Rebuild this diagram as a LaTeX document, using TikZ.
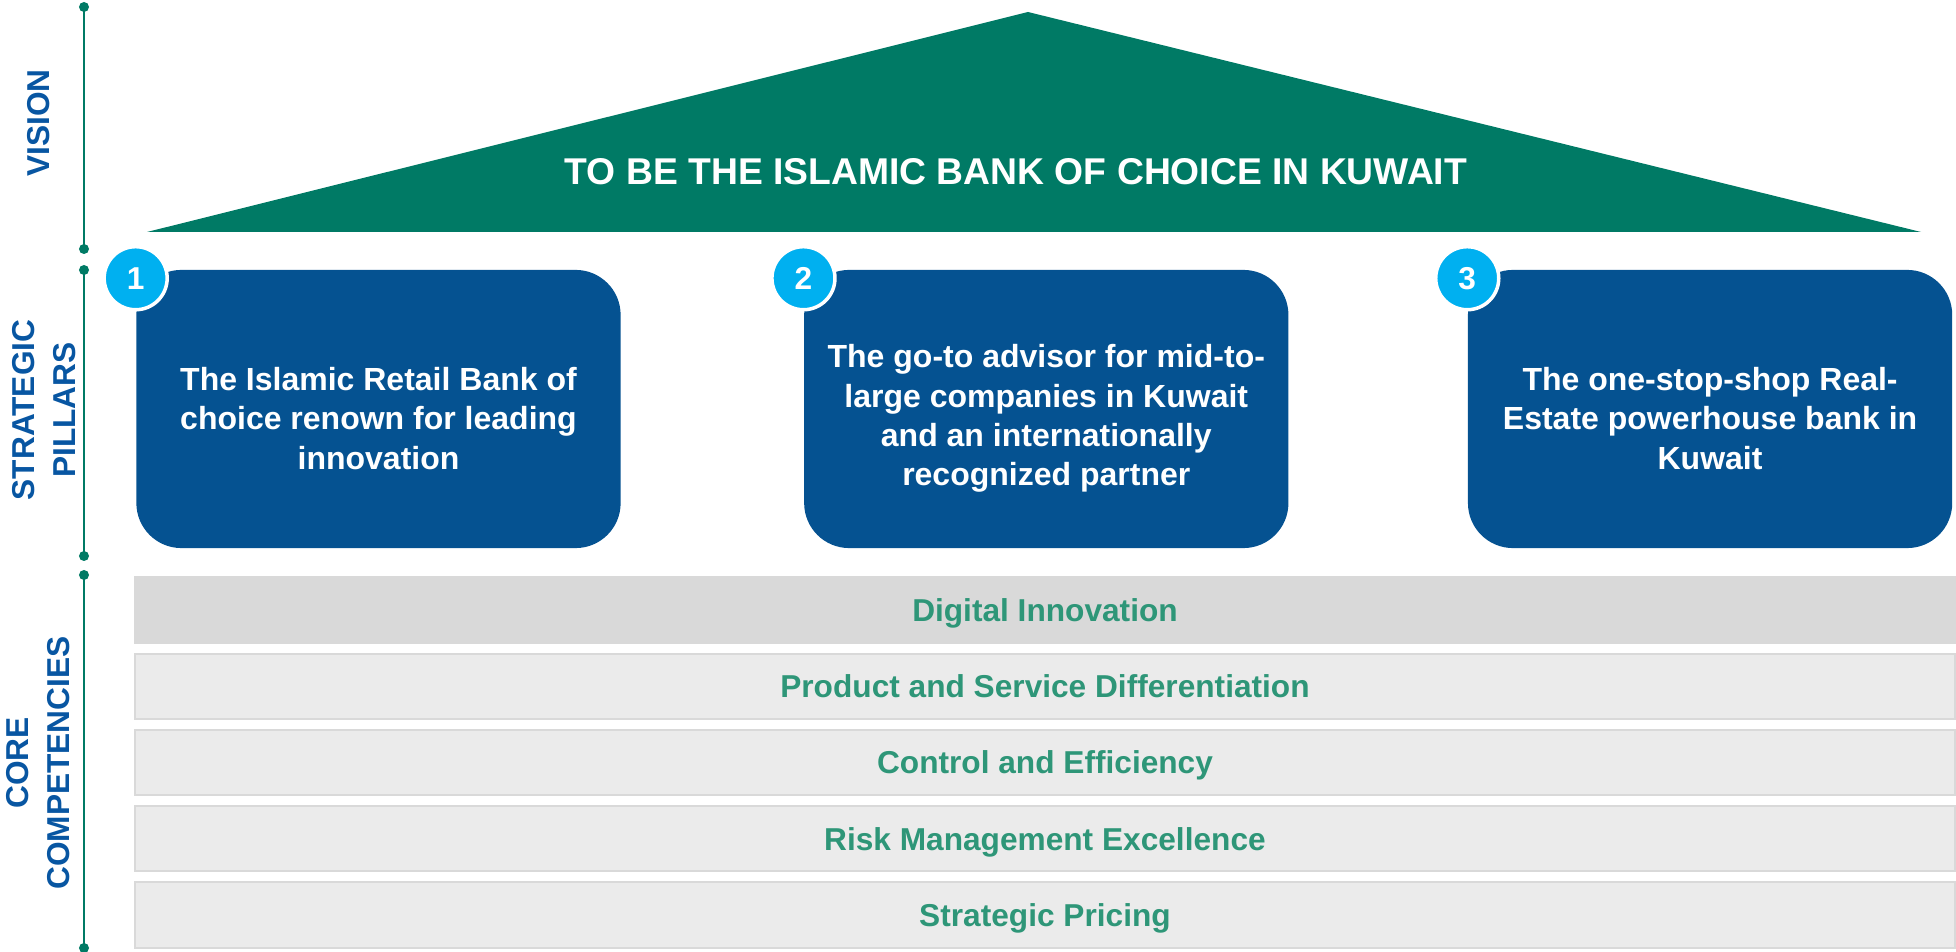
\documentclass[tikz,border=0pt]{standalone}
\usepackage{fontspec}
\setmainfont{Liberation Sans}
\usetikzlibrary{positioning, calc}
\definecolor{roofgreen}{RGB}{0,122,101}
\definecolor{pillarblue}{RGB}{5,82,145}
\definecolor{labelblue}{RGB}{8,86,162}
\definecolor{numblue}{RGB}{0,176,240}
\definecolor{coregreen}{RGB}{46,150,120}
\definecolor{bardark}{RGB}{217,217,217}
\definecolor{barlight}{RGB}{235,235,235}

\begin{document}
\begin{tikzpicture}[x = 0.01cm, y = -0.01cm]
\useasboundingbox (0, 0) rectangle (1956, 952);
\begin{scope}[
	axisline/.style={draw=roofgreen, line width=0.025cm},
	axisdot/.style={fill=roofgreen},
	sidelabel/.style={
		rotate=90, text=labelblue, align=center,
		font=\fontsize{9}{11.6}\selectfont\bfseries
	},
	pillar/.style={
		fill=pillarblue, rounded corners=0.45cm,
		minimum width=4.84cm, minimum height=2.78cm, inner sep=0pt
	},
	pillartext/.style={
		text=white, align=center, inner sep=0pt,
		font=\fontsize{9.1}{11.2}\selectfont\bfseries
	},
	numdot/.style={
		circle, fill=numblue, draw=white, line width=0.035cm, minimum size=0.63cm,
		inner sep=0pt, text=white, font=\fontsize{9}{10}\selectfont\bfseries
	},
	corebar/.style={
		draw=bardark, line width=0.02cm, minimum width=18.18cm, minimum height=0.65cm,
		inner sep=0pt, text height=0.227cm, text depth=0pt,
		text=coregreen, font=\fontsize{9}{10}\selectfont\bfseries
	}
]
\foreach \part/\top/\bot in {vis/7/249, pil/270/556, core/575/948} {
	\coordinate (\part-top) at (84, \top);
	\coordinate (\part-bot) at (84, \bot);
	\draw[axisline] (\part-top) -- (\part-bot);
	\fill[axisdot] (\part-top) circle (0.05cm);
	\fill[axisdot] (\part-bot) circle (0.05cm);
}
\node[sidelabel] (lab-vis) at (38.5, 123) {VISION};
\node[sidelabel] (lab-pil) at (44, 410) {STRATEGIC\\PILLARS};
\node[sidelabel] (lab-core) at (38.5, 763) {CORE\\COMPETENCIES};
\fill[roofgreen] (147, 232) coordinate(roof-l) -- (1028, 12) coordinate(roof-top) -- (1921, 232) coordinate(roof-r) -- cycle;
\node[text=white, font=\fontsize{10.6}{12}\selectfont\bfseries] (vision) at (1016, 172) {TO BE THE ISLAMIC BANK OF CHOICE IN KUWAIT};
\node[pillar] (pil-1) at (378.5, 409) {};
\node[pillar, right=1.82cm of pil-1] (pil-2) {};
\node[pillar, right=1.78cm of pil-2] (pil-3) {};
\foreach \i/\txt in {1/{The Islamic Retail Bank of\\choice renown for leading\\innovation}, 2/{The go-to advisor for mid-to-\\large companies in Kuwait\\and an internationally\\recognized partner}, 3/{The one-stop-shop Real-\\Estate powerhouse bank in\\Kuwait}} {
	\node[pillartext] (pil-\i-text) at ([yshift=-0.095cm]pil-\i.center) {\txt};
	\node[numdot] (num-\i) at ([yshift=-0.09cm]pil-\i.north west) {\i};
}
\foreach \i/\txt/\shade in {1/Digital Innovation/bardark, 2/Product and Service Differentiation/barlight, 3/Control and Efficiency/barlight, 4/Risk Management Excellence/barlight, 5/Strategic Pricing/barlight} {
	\node[corebar, fill=\shade] (bar-\i) at (1045, {610 + (\i - 1)*76.25}) {\txt};
}
\end{scope}
\end{tikzpicture}
\end{document}
